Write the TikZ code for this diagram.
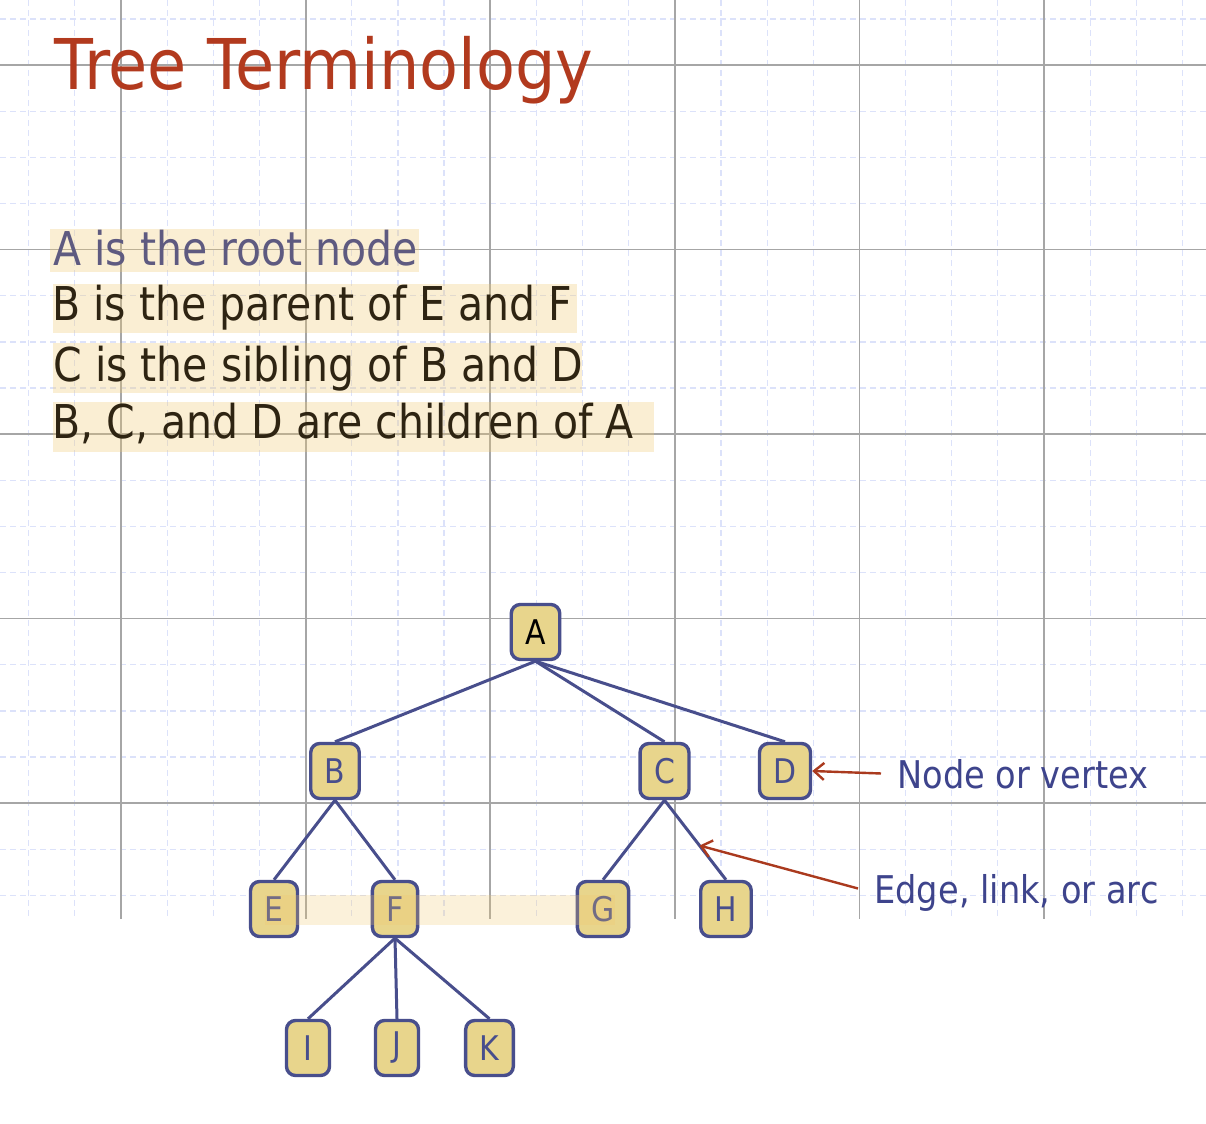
\documentclass[tikz,border=0pt]{standalone}
\usepackage{fontspec}
\setmainfont{DejaVu Sans}[FakeStretch=0.88]
\usetikzlibrary{arrows.meta}

\definecolor{titlered}{RGB}{178,58,30}
\definecolor{fadedtext}{RGB}{94,90,128}
\definecolor{darktext}{RGB}{46,36,18}
\definecolor{hlcream}{RGB}{240,200,110}
\definecolor{nodefill}{RGB}{232,213,140}
\definecolor{edgeblue}{RGB}{72,78,140}
\definecolor{labelblue}{RGB}{62,68,140}
\definecolor{pointerred}{RGB}{170,58,30}
\definecolor{minorblue}{RGB}{220,226,250}

\tikzset{
  majorgrid/.style={draw=gray!70, line width=0.9pt},
  minorgrid/.style={draw=minorblue, line width=0.6pt, dash pattern=on 3pt off 2pt},
  highlight/.style={fill=hlcream, fill opacity=0.3},
  bodytext/.style={anchor=base west, inner sep=0pt, font=\fontsize{23.3pt}{28pt}\selectfont},
  treenode/.style={draw=edgeblue, line width=1.7pt, fill=nodefill, rounded corners=4.5pt,
    minimum width=21.5pt, minimum height=27.5pt, inner xsep=7pt,
    font=\fontsize{17pt}{20pt}\selectfont, text=edgeblue},
  edge/.style={draw=edgeblue, line width=1.5pt},
  termlabel/.style={anchor=base west, inner xsep=8pt, inner ysep=0pt, text depth=0pt,
    font=\fontsize{19.1pt}{23pt}\selectfont, text=labelblue},
  pointer/.style={draw=pointerred, line width=1.2pt, -{Straight Barb[length=5pt, width=8.5pt]}}
}

\begin{document}
\begin{tikzpicture}[x=0.5pt, y=-0.5pt]
    % Canvas of the slide
    \useasboundingbox (0,0) rectangle (1206,1124);
    \fill[white] (0,0) rectangle (1206,1124);

    % Grid paper behind the slide
    \def\gridbottom{919}
    \foreach \i in {0,...,25}
        \draw[minorgrid] ({28.7+46.15*\i},0) -- ({28.7+46.15*\i},\gridbottom);
    \foreach \j in {0,...,19}
        \draw[minorgrid] (0,{19+46.13*\j}) -- (1206,{19+46.13*\j});
    \foreach \i in {0,...,5}
        \draw[majorgrid] ({121+184.6*\i},0) -- ({121+184.6*\i},\gridbottom);
    \foreach \j in {0,...,4}
        \draw[majorgrid] (0,{65+184.5*\j}) -- (1206,{65+184.5*\j});

    % Title
    \node[anchor=base west, inner sep=0pt, text=titlered,
          font=\fontsize{35pt}{40pt}\selectfont\addfontfeature{FakeStretch=0.91}] (title) at (54,89) {Tree Terminology};

    % Highlighted statements
    \fill[highlight] (50,229) rectangle (419,272);
    \fill[highlight] (53,284) rectangle (577,333);
    \fill[highlight] (53,343) rectangle (582,393);
    \fill[highlight] (53,402) rectangle (654,452);
    \node[bodytext, text=fadedtext] (rootline) at (53,265.5) {A is the root node};
    \node[bodytext, text=darktext] (parentline) at (52,320.5) {B is the parent of E and F};
    \node[bodytext, text=darktext] (siblingline) at (53,381) {C is the sibling of B and D};
    \node[bodytext, text=darktext] (childline) at (52,438) {B, C, and D are children of A};

    % The tree
    \node[treenode, text=black] (A) at (535.5,632) {A};
    \node[treenode] (B) at (335,771) {B};
    \node[treenode] (C) at (664.5,771) {C};
    \node[treenode] (D) at (785,771) {D};
    \node[treenode] (E) at (274,909) {E};
    \node[treenode] (F) at (395,909) {F};
    \node[treenode] (G) at (603,909) {G};
    \node[treenode] (H) at (726,909) {H};
    \node[treenode] (I) at (308,1048) {I};
    \node[treenode] (J) at (397,1048) {J};
    \node[treenode] (K) at (489.5,1048) {K};

    \draw[edge] (A.south) -- (B.north);
    \draw[edge] (A.south) -- (C.north);
    \draw[edge] (A.south) -- (D.north);
    \draw[edge] (B.south) -- (E.north);
    \draw[edge] (B.south) -- (F.north);
    \draw[edge] (C.south) -- (G.north);
    \draw[edge] (C.south) -- coordinate[pos=0.57] (chmid) (H.north);
    \draw[edge] (F.south) -- (I.north);
    \draw[edge] (F.south) -- (J.north);
    \draw[edge] (F.south) -- (K.north);

    % Highlight across the leaf row
    \fill[highlight, fill opacity=0.25] (265,895) rectangle (615,925);

    % Terminology labels
    \node[termlabel] (vertexlbl) at (881,788) {Node or vertex};
    \node[termlabel] (edgelbl) at (858,903) {Edge, link, or arc};
    \draw[pointer] (vertexlbl.west) -- (D.east);
    \draw[pointer] (edgelbl.west) -- (chmid);
\end{tikzpicture}
\end{document}
